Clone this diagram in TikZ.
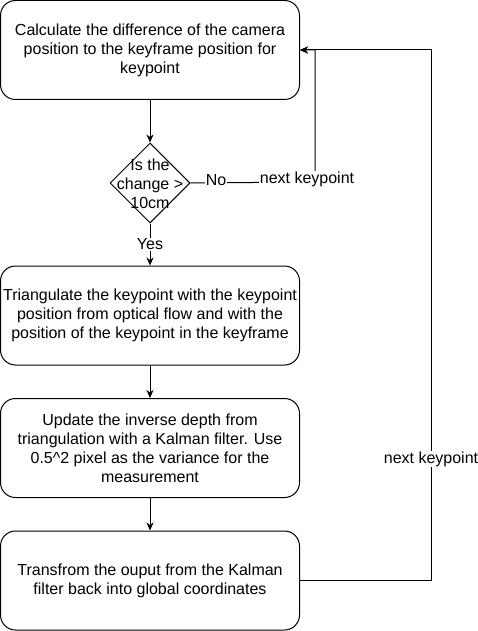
\documentclass[tikz,border=0pt]{standalone}
\usepackage{fontspec}
\setmainfont{Liberation Sans}
\usetikzlibrary{arrows.meta,shapes.geometric}
\begin{document}
\begin{tikzpicture}[x=1pt,y=-1pt,
  every node/.style={font=\fontsize{16}{19}\selectfont},
  stepbox/.style={draw,line width=1pt,rounded corners=15pt,minimum width=299pt,minimum height=99pt,align=center,inner sep=0pt},
  decision/.style={draw,diamond,line width=1pt,minimum width=80pt,minimum height=80pt,inner sep=0pt},
  lbl/.style={fill=white,inner sep=1pt,align=center},
  arr/.style={line width=1pt,-{Stealth[length=8pt,width=7pt,inset=2.5pt]}},
  ln/.style={line width=1pt}]
\useasboundingbox (0,0) rectangle (478,631);
\node[stepbox] (b1) at (150,50) {Calculate the difference of the camera\\position to the keyframe position for\\keypoint};
\node[decision] (d) at (150,183) {};
\node[align=center,inner sep=0pt] (dt) at (150,184) {Is the\\change >\\10cm};
\node[stepbox] (b2) at (150,315.5) {Triangulate the keypoint with the keypoint\\position from optical flow and with the\\position of the keypoint in the keyframe};
\node[stepbox] (b3) at (150,448) {Update the inverse depth from\\triangulation with a Kalman filter. Use\\0.5\^{}2 pixel as the variance for the\\measurement};
\node[stepbox] (b4) at (150,580.5) {Transfrom the ouput from the Kalman\\filter back into global coordinates};
\coordinate (c1) at (315,182);
\coordinate (c2) at (315,50);
\coordinate (c3) at (431,580);
\coordinate (c4) at (431,50);
\draw[arr] (b1) -- (d);
\draw[arr] (d) -- node[lbl,pos=0.5]{Yes} (b2);
\draw[arr] (b2) -- (b3);
\draw[arr] (b3) -- (b4);
\draw[arr] (d.east) -- (c1) -- (c2) -- (b1.east);
\node[lbl] (no) at (216,180) {No};
\node[lbl] (nk1) at (307,179) {next keypoint};
\draw[arr] (b4.east |- c3) -- (c3) -- (c4) -- (b1.east);
\node[lbl] (nk2) at (431,459) {next keypoint};
\end{tikzpicture}
\end{document}
